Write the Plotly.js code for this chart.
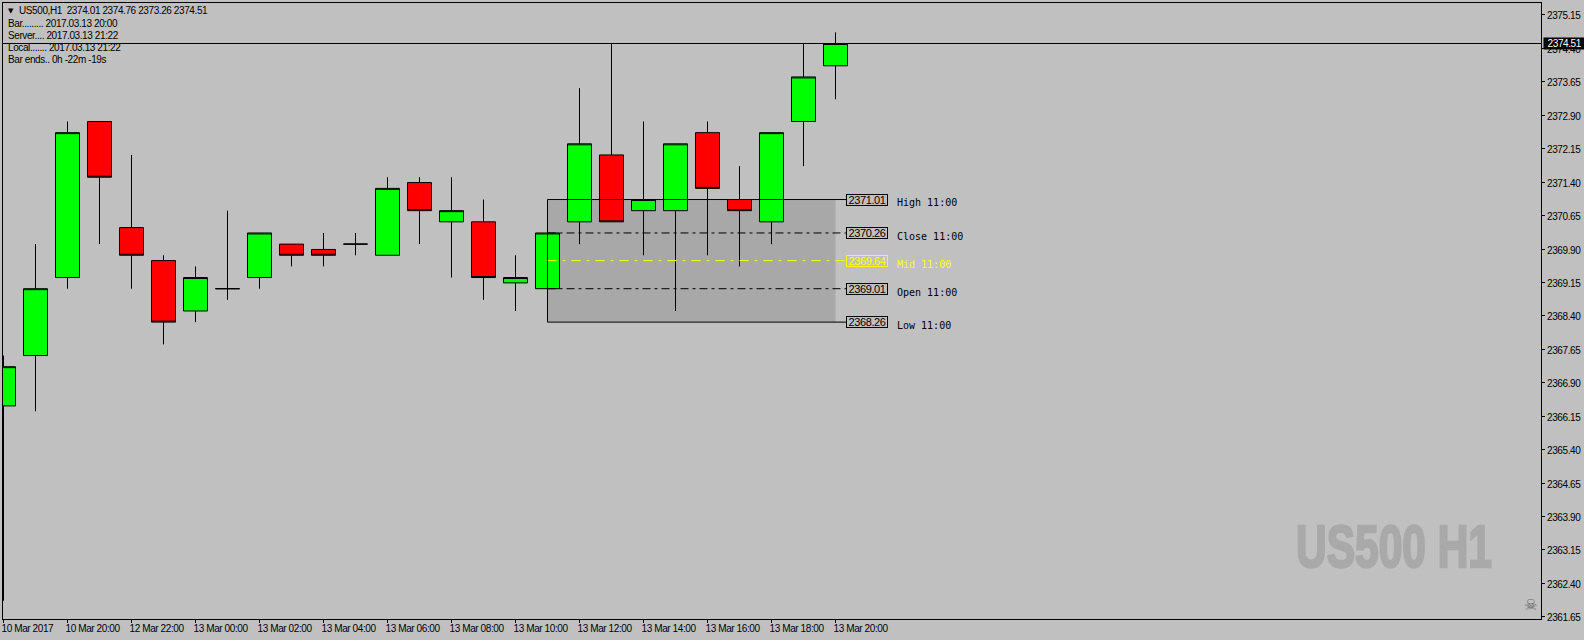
<!DOCTYPE html>
<html>
<head>
<meta charset="utf-8">
<script src="https://cdn.plot.ly/plotly-3.0.1.min.js"></script>
<style>
html,body{margin:0;padding:0;background:#C0C0C0;}
.xtick text,.ytick text,.tight text{letter-spacing:-0.4px;}
.wm text{stroke:#A9A9A9;stroke-width:2.5px;}
</style>
</head>
<body>
<div id="chart" style="width:1584px;height:640px;"></div>
<script>
const candleIndex = [0,1,2,3,4,5,6,7,8,9,10,11,12,13,14,15,16,17,18,19,20,21,22,23,24,25,26];
const opens  = [2366.38,2367.51,2369.26,2372.76,2370.38,2369.64,2368.51,2369.01,2369.26,2370.01,2369.89,2370.01,2369.76,2371.39,2370.51,2370.51,2369.14,2369.01,2370.51,2372.01,2370.76,2370.76,2372.51,2371.01,2370.51,2372.76,2374.01];
const highs  = [2367.51,2370.01,2372.76,2372.76,2372.01,2369.76,2369.51,2370.76,2370.26,2370.01,2370.26,2370.26,2371.51,2371.51,2371.51,2371.01,2369.76,2370.26,2373.51,2374.51,2372.76,2372.26,2372.76,2371.76,2372.51,2374.51,2374.76];
const lows   = [2362.01,2366.26,2369.01,2370.01,2369.01,2367.76,2368.26,2368.76,2369.01,2369.51,2369.51,2369.76,2369.76,2370.01,2369.26,2368.76,2368.51,2369.01,2370.01,2370.51,2369.76,2368.51,2369.76,2369.51,2370.01,2371.76,2373.26];
const closes = [2367.26,2369.01,2372.51,2371.51,2369.76,2368.26,2369.26,2369.01,2370.26,2369.76,2369.76,2370.01,2371.26,2370.76,2370.76,2369.26,2369.26,2370.26,2372.26,2370.51,2371.01,2372.26,2371.26,2370.76,2372.51,2373.76,2374.51];

const xTickIndex = [0,2,4,6,8,10,12,14,16,18,20,22,24,26];
const xTickLabels = ['10 Mar 2017','10 Mar 20:00','12 Mar 22:00','13 Mar 00:00','13 Mar 02:00','13 Mar 04:00','13 Mar 06:00','13 Mar 08:00','13 Mar 10:00','13 Mar 12:00','13 Mar 14:00','13 Mar 16:00','13 Mar 18:00','13 Mar 20:00'];

const levelNames  = ['High 11:00','Close 11:00','Mid 11:00','Open 11:00','Low 11:00'];
const levelValues = [2371.01,2370.26,2369.64,2369.01,2368.26];
const levelText   = ['2371.01','2370.26','2369.64','2369.01','2368.26'];
const levelColors = ['#000000','#000000','#FFFF00','#000000','#000000'];
const levelDash   = ['solid','8px,4px,3px,4px','9px,6px,3px,6px','8px,4px,3px,4px','solid'];
const levelStart = 17, rectEnd = 26, levelEnd = 26.33, labelAt = 26.33, nameAt = 27.86;

const headerLines = ['Bar......... 2017.03.13 20:00','Server.... 2017.03.13 21:22','Local....... 2017.03.13 21:22','Bar ends.. 0h -22m -19s'];
const headerTitle = 'US500,H1  2374.01 2374.76 2373.26 2374.51';
const lastPrice = 2374.51;

const BG = '#C0C0C0', FONT = '"Liberation Sans", Arial, sans-serif';

const traces = [{
  type:'candlestick', x:candleIndex, open:opens, high:highs, low:lows, close:closes,
  increasing:{fillcolor:'#00FF00', line:{color:'#000000', width:1}},
  decreasing:{fillcolor:'#FF0000', line:{color:'#000000', width:1}},
  whiskerwidth:0, hoverinfo:'skip', showlegend:false
}];
traces.push({type:'scatter', mode:'lines', x:[levelStart,levelStart], y:[levelValues[4],levelValues[0]],
  line:{color:'#000000',width:1}, hoverinfo:'skip', showlegend:false});
levelNames.forEach((n,i)=>{
  traces.push({type:'scatter', mode:'lines', name:n, x:[levelStart,levelEnd], y:[levelValues[i],levelValues[i]],
    line:{color:levelColors[i],width:1,dash:levelDash[i]}, hoverinfo:'skip', showlegend:false});
});

const annotations = [];
annotations.push({xref:'paper',yref:'paper',x:0,y:1,xanchor:'left',yanchor:'middle',align:'left',xshift:14,yshift:-7.5,
  text:headerTitle,showarrow:false,font:{family:FONT,size:10,color:'#000'}});
annotations.push({xref:'paper',yref:'paper',x:0,y:1,xanchor:'left',yanchor:'middle',xshift:3,yshift:-7.5,
  text:'▼',showarrow:false,font:{family:'"DejaVu Sans"',size:7,color:'#000'}});
headerLines.forEach((t,i)=>annotations.push({xref:'paper',yref:'paper',x:0,y:1,xanchor:'left',yanchor:'middle',align:'left',
  xshift:3,yshift:-20.5-12*i,text:t,showarrow:false,font:{family:FONT,size:10,color:'#000'}}));
levelNames.forEach((n,i)=>{
  annotations.push({x:labelAt,y:levelValues[i],xanchor:'left',yanchor:'middle',text:levelText[i],showarrow:false,
    width:40,height:10,align:'center',bgcolor:BG,bordercolor:levelColors[i],borderwidth:1,borderpad:0,
    font:{family:FONT,size:11,color:i===2?'#FFFF00':'#000'}});
  annotations.push({x:nameAt,y:levelValues[i],xanchor:'left',yanchor:'middle',yshift:-3.4,text:n,showarrow:false,
    font:{family:'"DejaVu Sans Mono"',size:10,color:levelColors[i]}});
});
annotations.push({xref:'paper',x:1,y:lastPrice,xanchor:'left',yanchor:'middle',xshift:2,text:'2374.51',showarrow:false,
  width:41,height:11,align:'center',bgcolor:'#000000',borderpad:0,font:{family:FONT,size:10,color:'#FFFFFF'}});
annotations.push({xref:'paper',yref:'paper',x:0,y:0,xanchor:'left',yanchor:'middle',align:'left',xshift:1291,yshift:72.5,
  text:'<b>US500 H1</b>',showarrow:false,font:{family:'"Liberation Sans"',size:59,color:'#A9A9A9'}});
annotations.push({xref:'paper',yref:'paper',x:1,y:0,xanchor:'right',yanchor:'middle',xshift:-2,yshift:14,
  text:'☠',showarrow:false,font:{family:'"DejaVu Sans"',size:15,color:'#6A6A6A'}});

const layout = {
  width:1584, height:640,
  margin:{l:3,r:43,t:3,b:21,pad:0},
  paper_bgcolor:BG, plot_bgcolor:BG,
  showlegend:false, hovermode:false, dragmode:false,
  boxgap:0, boxgroupgap:0.25,
  font:{family:FONT,size:10,color:'#000'},
  xaxis:{type:'linear', range:[(3-3.5)/32,(1541-3.5)/32], rangeslider:{visible:false},
    tickmode:'array', tickvals:xTickIndex, ticktext:xTickLabels, tickangle:0,
    ticks:'outside', ticklen:3, tickcolor:'#000', tickwidth:1,
    ticklabelposition:'outside right', ticklabelshift:-3, ticklabeloverflow:'allow', showgrid:false, zeroline:false,
    showline:true, linecolor:'#000', linewidth:1, mirror:true,
    tickfont:{family:FONT,size:10,color:'#000'}, fixedrange:true},
  yaxis:{type:'linear', side:'right', range:[2361.6005,2375.4185],
    tick0:2361.65, dtick:0.75, tickformat:'.2f',
    ticks:'outside', ticklen:3, tickcolor:'#000', tickwidth:1, showgrid:false, zeroline:false,
    showline:true, linecolor:'#000', linewidth:1, mirror:true,
    tickfont:{family:FONT,size:10,color:'#000'}, fixedrange:true},
  shapes:[
    {type:'rect', layer:'below', xref:'x', yref:'y', x0:levelStart, x1:rectEnd, y0:levelValues[4], y1:levelValues[0],
      fillcolor:'#A8A8A8', line:{width:0}},
    {type:'line', layer:'above', xref:'paper', yref:'y', x0:0, x1:1, y0:lastPrice, y1:lastPrice, line:{color:'#000',width:1}}
  ],
  annotations
};
Plotly.newPlot('chart', traces, layout, {displayModeBar:false, staticPlot:true}).then(()=>{
  document.querySelectorAll('.annotation-text').forEach(t=>{
    const s=t.textContent;
    if(/^(US500,H1|Bar|Server|Local)/.test(s) || /^23\d\d\./.test(s)) t.parentNode.classList.add('tight');
    if(s==='US500 H1'){
      t.parentNode.classList.add('wm');
      t.setAttribute('textLength','196');
      t.setAttribute('lengthAdjust','spacingAndGlyphs');
      const box=t.closest('.annotation').querySelector('rect');
      if(box) box.setAttribute('width','200');
    }
  });
  document.querySelectorAll('.ytick text').forEach(t=>{
    t.setAttribute('y', parseFloat(t.getAttribute('y')||0)+1);
  });
});
</script>
</body>
</html>
